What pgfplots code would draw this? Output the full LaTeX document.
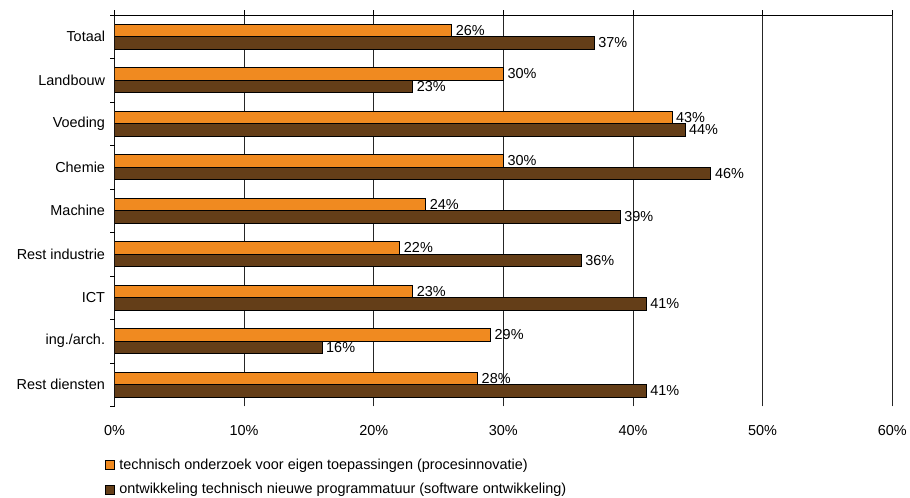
\documentclass[border=0pt]{standalone}
\usepackage{pgfplots}
\pgfplotsset{compat=1.18}
\usepackage{pgfplotstable}
\usepackage{fontspec}
\setmainfont{Liberation Sans}

\definecolor{procorange}{RGB}{240,138,32}
\definecolor{softbrown}{RGB}{100,62,24}

% share of firms per sector (%), Totaal at the top (pos 8)
\pgfplotstableread{
pos proces software
8 26 37
7 30 23
6 43 44
5 30 46
4 24 39
3 22 36
2 23 41
1 29 16
0 28 41
}\sectordata

\newcommand{\chartfont}{\fontsize{14.5bp}{17bp}\selectfont}

\begin{document}
\begin{tikzpicture}
\begin{axis}[
  at={(0,0)}, anchor=south west,
  scale only axis, width=781bp, height=393bp,
  xmin=0, xmax=60, ymin=-0.5, ymax=8.5,
  xbar, bar width=12.5bp,
  axis line style={draw=none},
  tick align=outside,
  major tick length=4.5bp,
  tick style={black, line width=0.6bp},
  xtick={0,10,...,60},
  xticklabels={0\%,10\%,20\%,30\%,40\%,50\%,60\%},
  xtick pos=right, xticklabel pos=left,
  xticklabel style={font=\chartfont, yshift=-11bp},
  xmajorgrids,
  grid style={black!85, line width=0.6bp},
  ytick={-0.5,0.5,...,8.5},
  yticklabels={},
  ytick pos=left,
  extra y ticks={0,1,...,8},
  extra y tick labels={Rest diensten,ing./arch.,ICT,Rest industrie,Machine,Chemie,Voeding,Landbouw,Totaal},
  extra y tick style={major tick length=0pt, yticklabel style={font=\chartfont, xshift=-6bp}},
  nodes near coords={\pgfmathprintnumber[assume math mode=true]{\pgfplotspointmeta}\%},
  nodes near coords align=horizontal,
  every node near coord/.append style={font=\chartfont, black, anchor=west, inner sep=4bp},
  point meta=x,
  legend cell align=left,
  legend style={draw=none, fill=none, inner sep=0pt, row sep=9bp, column sep=3bp, font=\chartfont,
    at={(axis description cs:-0.0128,-0.128)}, anchor=north west},
  legend image code/.code={\draw[#1] (0bp,-4.5bp) rectangle (9bp,4.5bp);},
]
\addplot[fill=procorange, draw=black, line width=0.6bp, bar shift=6.25bp]
  table[x=proces, y=pos] {\sectordata};
\addlegendentry{technisch onderzoek voor eigen toepassingen (procesinnovatie)}
\addplot[fill=softbrown, draw=black, line width=0.6bp, bar shift=-6.25bp]
  table[x=software, y=pos] {\sectordata};
\addlegendentry{ontwikkeling technisch nieuwe programmatuur (software ontwikkeling)}
\draw[black, line width=0.6bp] (rel axis cs:0,0) -- (rel axis cs:0,1) -- (rel axis cs:1,1);
\end{axis}
\path (-115bp,-88bp) rectangle (795bp,408bp);
\end{tikzpicture}
\end{document}
